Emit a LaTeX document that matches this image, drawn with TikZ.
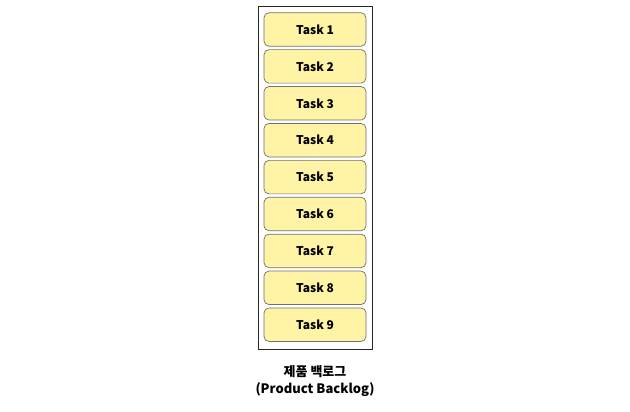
\documentclass[tikz,border=0pt]{standalone}
\usepackage{fontspec}
\setmainfont{Noto Sans CJK KR}
\definecolor{taskfill}{HTML}{FFF3A6}
\definecolor{taskdraw}{HTML}{707070}
\begin{document}
\begin{tikzpicture}[x=1pt,y=-1pt,
  taskbox/.style={draw=taskdraw, fill=taskfill, rounded corners=5pt, line width=0.7pt,
    minimum width=102pt, minimum height=33.5pt, inner sep=0pt,
    font=\fontsize{12}{14}\selectfont\bfseries},
  board/.style={draw=black!85, line width=0.9pt},
  caption/.style={font=\fontsize{13}{17}\selectfont\bfseries, align=center}]
\useasboundingbox (0,0) rectangle (630,412);
\node[board, minimum width=114pt, minimum height=343pt, inner sep=0pt] (board) at (315,177.5) {};
\foreach \i in {1,...,9} {
  \node[taskbox] (t\i) at (315, {29.5+36.9*(\i-1)}) {Task \i};
}
\node[caption] (cap) at (315,381.5) {제품 백로그\\(Product Backlog)};
\end{tikzpicture}
\end{document}
